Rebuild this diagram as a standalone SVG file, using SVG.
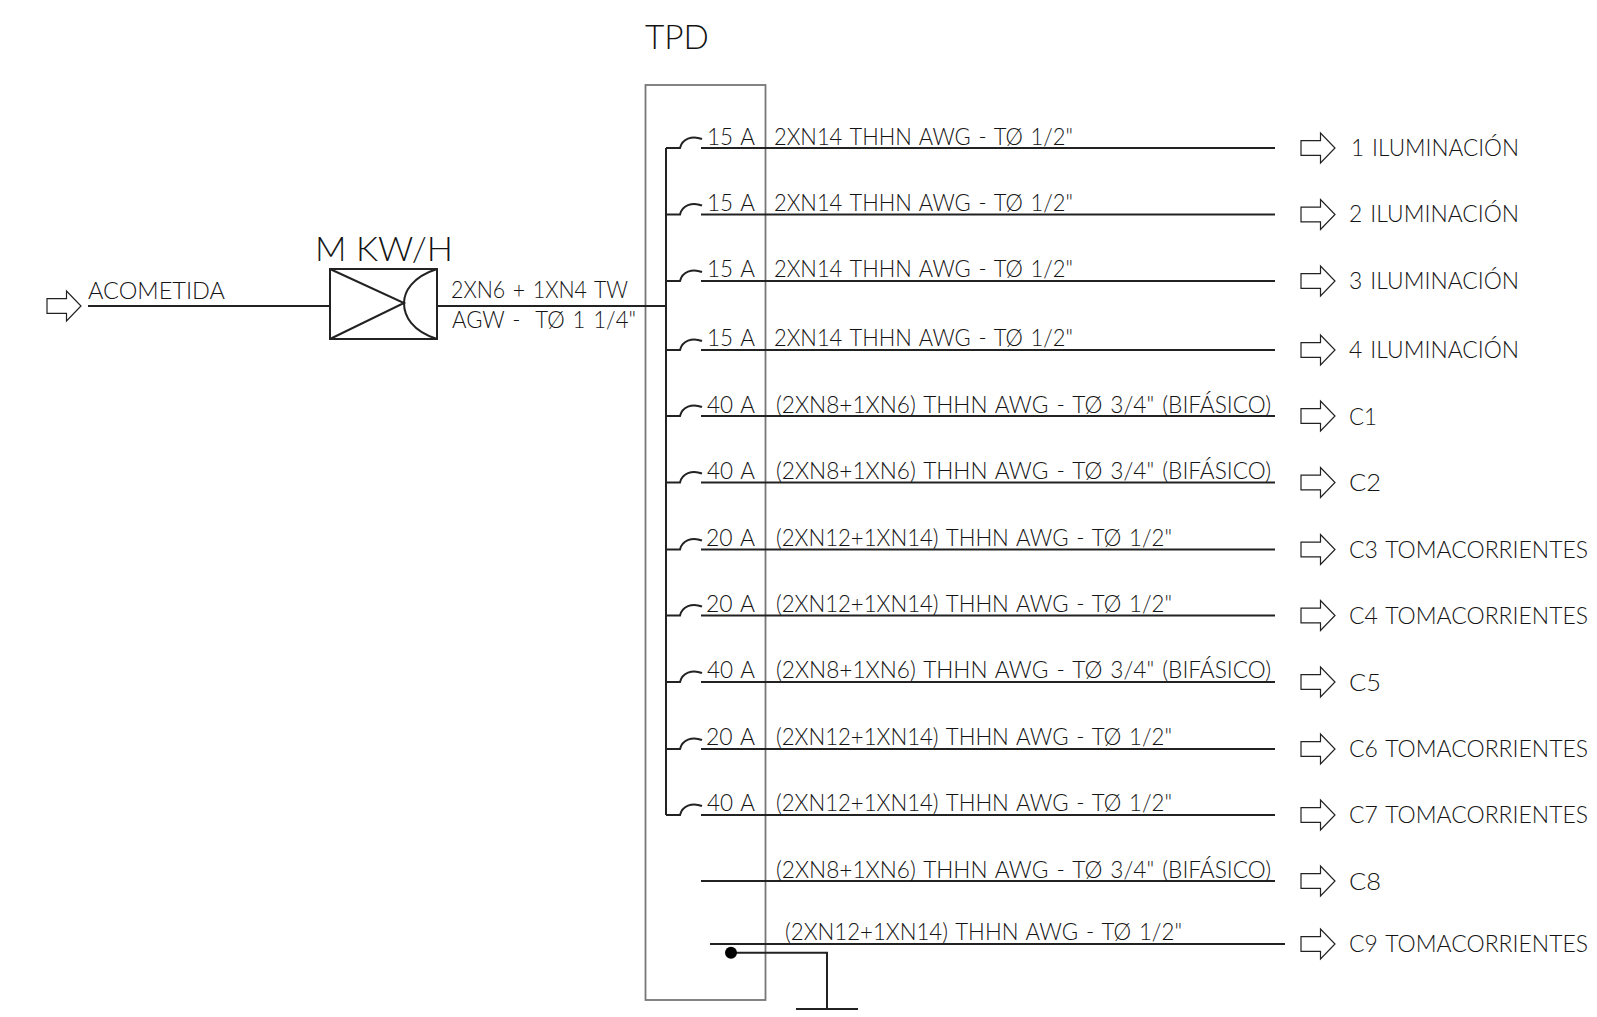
<svg xmlns="http://www.w3.org/2000/svg" width="1597" height="1017" viewBox="0 0 1597 1017">
<style>
text{font-family:Lato,"Liberation Sans",sans-serif;fill:#141414;font-size:24px;font-weight:300;word-spacing:2px;white-space:pre}
.w{fill:none;stroke:#222;stroke-width:2}
.a{fill:#fff;stroke:#222;stroke-width:1.2;stroke-linejoin:miter}
.b{fill:none;stroke:#777;stroke-width:1.800}
</style>
<defs>
<path id="arr" class="a" d="M0 -7.3H19.5V-15L34 0L19.5 15V7.3H0Z"/>
</defs>
<rect width="1597" height="1017" fill="#fff"/>
<g id="tablero"><rect class="b" x="645.5" y="85" width="120" height="915"/>
<text x="645" y="49" style="font-size:34px" textLength="64" lengthAdjust="spacingAndGlyphs">TPD</text></g>
<g id="connectors">
<path class="w" d="M88 306H330M437.500 306H666M666 148V815"/>
<path class="w" d="M666 148H680C682 139 692 135 702 139M666 214.500H680C682 205.500 692 201.500 702 205.500M666 281H680C682 272 692 268 702 272M666 350H680C682 341 692 337 702 341M666 416H680C682 407 692 403 702 407M666 482.500H680C682 473.500 692 469.500 702 473.500M666 549.500H680C682 540.500 692 536.500 702 540.500M666 615.500H680C682 606.500 692 602.500 702 606.500M666 682H680C682 673 692 669 702 673M666 749H680C682 740 692 736 702 740M666 815H680C682 806 692 802 702 806"/>
<path class="w" d="M701 148H1275M701 214.500H1275M701 281H1275M701 350H1275M701 416H1275M701 482.500H1275M701 549.500H1275M701 615.500H1275M701 682H1275M701 749H1275M701 815H1275M701 881H1275M710 944H1285"/>
<path class="w" d="M731 952.700H827V1009M796 1009H858"/>
<circle cx="731" cy="952.700" r="6" fill="#000"/>
</g>
<g id="acometida"><use href="#arr" x="47" y="306"/><text x="88" y="299" textLength="137" lengthAdjust="spacingAndGlyphs">ACOMETIDA</text></g>
<g id="medidor"><rect x="330" y="269" width="107" height="70" fill="#fff" stroke="#222" stroke-width="2"/>
<path class="w" d="M330 269L404 303L330 339M437 269C412 277 404 292 404 303C404 316 412 331 437 339"/>
<text x="315" y="261" style="font-size:34px;word-spacing:0" textLength="138" lengthAdjust="spacingAndGlyphs">M KW/H</text>
<text x="451" y="298" textLength="177" lengthAdjust="spacingAndGlyphs">2XN6 + 1XN4 TW</text>
<text x="452" y="328" textLength="184" lengthAdjust="spacingAndGlyphs">AGW -  TØ 1 1/4"</text></g>
<g id="c01"><text x="707" y="145" textLength="48" lengthAdjust="spacingAndGlyphs">15 A</text><text x="774" y="145" textLength="299" lengthAdjust="spacingAndGlyphs">2XN14 THHN AWG - TØ 1/2"</text><use href="#arr" x="1301" y="148"/><text x="1351" y="156" textLength="168" lengthAdjust="spacingAndGlyphs">1 ILUMINACIÓN</text></g>
<g id="c02"><text x="707" y="211" textLength="48" lengthAdjust="spacingAndGlyphs">15 A</text><text x="774" y="211" textLength="299" lengthAdjust="spacingAndGlyphs">2XN14 THHN AWG - TØ 1/2"</text><use href="#arr" x="1301" y="214.500"/><text x="1349" y="222" textLength="170" lengthAdjust="spacingAndGlyphs">2 ILUMINACIÓN</text></g>
<g id="c03"><text x="707" y="277" textLength="48" lengthAdjust="spacingAndGlyphs">15 A</text><text x="774" y="277" textLength="299" lengthAdjust="spacingAndGlyphs">2XN14 THHN AWG - TØ 1/2"</text><use href="#arr" x="1301" y="281"/><text x="1349" y="289" textLength="170" lengthAdjust="spacingAndGlyphs">3 ILUMINACIÓN</text></g>
<g id="c04"><text x="707" y="346" textLength="48" lengthAdjust="spacingAndGlyphs">15 A</text><text x="774" y="346" textLength="299" lengthAdjust="spacingAndGlyphs">2XN14 THHN AWG - TØ 1/2"</text><use href="#arr" x="1301" y="350"/><text x="1349" y="358" textLength="170" lengthAdjust="spacingAndGlyphs">4 ILUMINACIÓN</text></g>
<g id="c1"><text x="707" y="413" textLength="48" lengthAdjust="spacingAndGlyphs">40 A</text><text x="776" y="413" textLength="495" lengthAdjust="spacingAndGlyphs">(2XN8+1XN6) THHN AWG - TØ 3/4" (BIFÁSICO)</text><use href="#arr" x="1301" y="416"/><text x="1349" y="425" textLength="28" lengthAdjust="spacingAndGlyphs">C1</text></g>
<g id="c2"><text x="707" y="479" textLength="48" lengthAdjust="spacingAndGlyphs">40 A</text><text x="776" y="479" textLength="495" lengthAdjust="spacingAndGlyphs">(2XN8+1XN6) THHN AWG - TØ 3/4" (BIFÁSICO)</text><use href="#arr" x="1301" y="482.500"/><text x="1349" y="491" textLength="32" lengthAdjust="spacingAndGlyphs">C2</text></g>
<g id="c3"><text x="706" y="546" textLength="49" lengthAdjust="spacingAndGlyphs">20 A</text><text x="776" y="546" textLength="396" lengthAdjust="spacingAndGlyphs">(2XN12+1XN14) THHN AWG - TØ 1/2"</text><use href="#arr" x="1301" y="549.500"/><text x="1349" y="558" textLength="239" lengthAdjust="spacingAndGlyphs">C3 TOMACORRIENTES</text></g>
<g id="c4"><text x="706" y="612" textLength="49" lengthAdjust="spacingAndGlyphs">20 A</text><text x="776" y="612" textLength="396" lengthAdjust="spacingAndGlyphs">(2XN12+1XN14) THHN AWG - TØ 1/2"</text><use href="#arr" x="1301" y="615.500"/><text x="1349" y="624" textLength="239" lengthAdjust="spacingAndGlyphs">C4 TOMACORRIENTES</text></g>
<g id="c5"><text x="707" y="678" textLength="48" lengthAdjust="spacingAndGlyphs">40 A</text><text x="776" y="678" textLength="495" lengthAdjust="spacingAndGlyphs">(2XN8+1XN6) THHN AWG - TØ 3/4" (BIFÁSICO)</text><use href="#arr" x="1301" y="682"/><text x="1349" y="691" textLength="32" lengthAdjust="spacingAndGlyphs">C5</text></g>
<g id="c6"><text x="706" y="745" textLength="49" lengthAdjust="spacingAndGlyphs">20 A</text><text x="776" y="745" textLength="396" lengthAdjust="spacingAndGlyphs">(2XN12+1XN14) THHN AWG - TØ 1/2"</text><use href="#arr" x="1301" y="749"/><text x="1349" y="757" textLength="239" lengthAdjust="spacingAndGlyphs">C6 TOMACORRIENTES</text></g>
<g id="c7"><text x="707" y="811" textLength="48" lengthAdjust="spacingAndGlyphs">40 A</text><text x="776" y="811" textLength="396" lengthAdjust="spacingAndGlyphs">(2XN12+1XN14) THHN AWG - TØ 1/2"</text><use href="#arr" x="1301" y="815"/><text x="1349" y="823" textLength="239" lengthAdjust="spacingAndGlyphs">C7 TOMACORRIENTES</text></g>
<g id="c8"><text x="776" y="878" textLength="495" lengthAdjust="spacingAndGlyphs">(2XN8+1XN6) THHN AWG - TØ 3/4" (BIFÁSICO)</text><use href="#arr" x="1301" y="881"/><text x="1349" y="890" textLength="32" lengthAdjust="spacingAndGlyphs">C8</text></g>
<g id="c9"><text x="785" y="940" textLength="397" lengthAdjust="spacingAndGlyphs">(2XN12+1XN14) THHN AWG - TØ 1/2"</text><use href="#arr" x="1301" y="944"/><text x="1349" y="952" textLength="239" lengthAdjust="spacingAndGlyphs">C9 TOMACORRIENTES</text></g>
</svg>
